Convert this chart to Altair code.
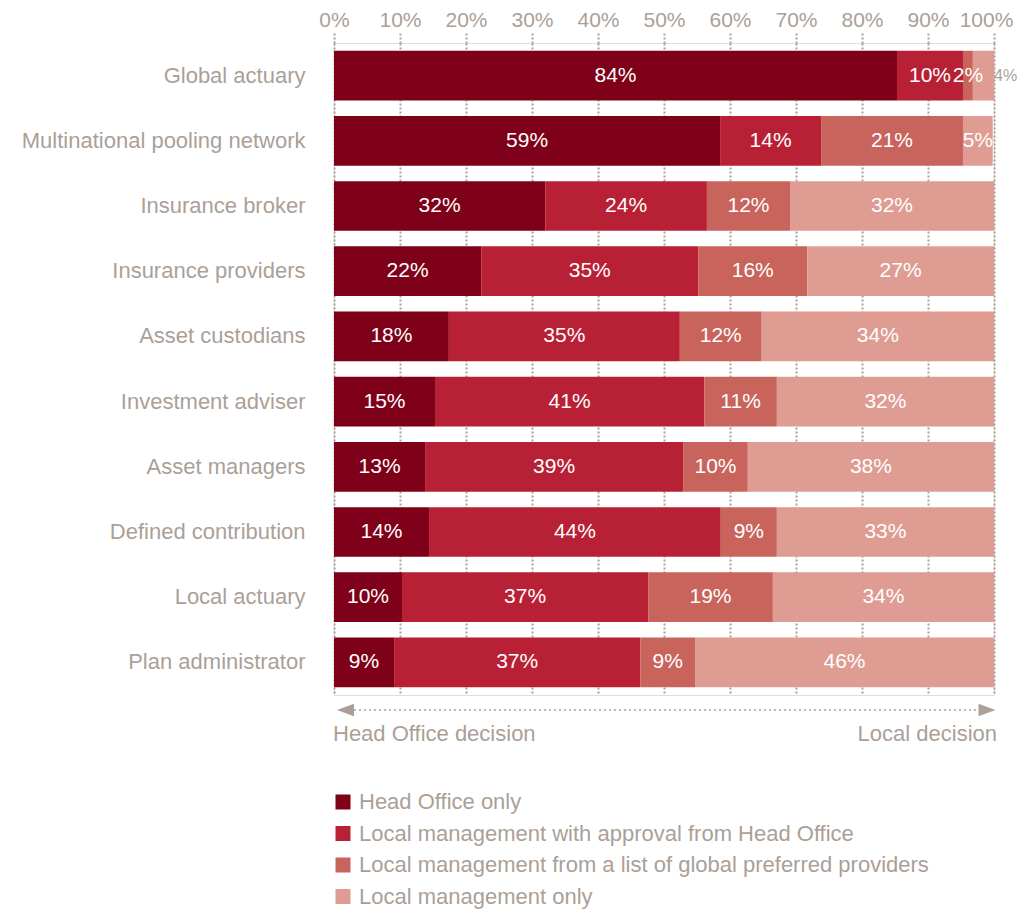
import altair as alt
import pandas as pd

categories = ["Global actuary", "Multinational pooling network", "Insurance broker",
              "Insurance providers", "Asset custodians", "Investment adviser",
              "Asset managers", "Defined contribution", "Local actuary", "Plan administrator"]
segments = ["Head Office only",
            "Local management with approval from Head Office",
            "Local management from a list of global preferred providers",
            "Local management only"]
colors = ["#7E0019", "#B82135", "#C8645C", "#DE9C93"]

# bar lengths (share of respondents, %)
head_office = [85.3, 58.5, 32.0, 22.3, 17.4, 15.3, 13.8, 14.4, 10.3, 9.1]
with_approval = [10.0, 15.3, 24.5, 32.9, 35.0, 40.8, 39.1, 44.2, 37.3, 37.3]
preferred_list = [1.5, 21.5, 12.6, 16.5, 12.4, 11.0, 9.8, 8.5, 18.9, 8.3]
local_only = [3.2, 4.5, 30.9, 28.3, 35.2, 32.9, 37.3, 32.9, 33.5, 45.3]

# printed labels
head_office_lbl = [84, 59, 32, 22, 18, 15, 13, 14, 10, 9]
with_approval_lbl = [10, 14, 24, 35, 35, 41, 39, 44, 37, 37]
preferred_list_lbl = [2, 21, 12, 16, 12, 11, 10, 9, 19, 9]
local_only_lbl = [4, 5, 32, 27, 34, 32, 38, 33, 34, 46]

tick_values = [0, 10, 20, 30, 40, 50, 60, 70, 80, 90, 100]

GRAY = "#AB9F97"
FONT = "Liberation Sans"

rows = []
series = [(head_office, head_office_lbl), (with_approval, with_approval_lbl),
          (preferred_list, preferred_list_lbl), (local_only, local_only_lbl)]
for si, (vals, lbls) in enumerate(series):
    for ci, cat in enumerate(categories):
        rows.append({"category": cat, "segment": segments[si], "order": si,
                     "share": vals[ci], "label": f"{lbls[ci]}%"})
df = pd.DataFrame(rows)

base = alt.Chart(df).transform_stack(
    stack="share", as_=["x0", "x1"], groupby=["category"],
    sort=[alt.SortField("order", order="ascending")]
).transform_calculate(mid="(datum.x0 + datum.x1) / 2")

y_enc = alt.Y("category:N", sort=categories,
              scale=alt.Scale(paddingInner=0.238, paddingOuter=0.119),
              axis=alt.Axis(title=None, ticks=False, domain=False, labelFontSize=22,
                            labelColor=GRAY, labelFont=FONT, labelPadding=29,
                            labelLimit=400, grid=False))

x_scale = alt.Scale(domain=[0, 100], nice=False, zero=True)

bars = base.mark_bar().encode(
    y=y_enc,
    x=alt.X("x0:Q", scale=x_scale,
            axis=alt.Axis(orient="top", values=tick_values, title=None,
                          labelExpr="datum.value + '%'", labelFontSize=21,
                          labelColor=GRAY, labelFont=FONT, labelPadding=1,
                          domain=False, ticks=True, tickSize=12, tickColor=GRAY,
                          tickDash=[2, 2], tickWidth=2, grid=True, gridColor=GRAY,
                          gridDash=[2, 2], gridWidth=2, labelFlush=False,
                          labelOverlap=False,
                          labelOffset={"condition": {"test": "datum.value === 100",
                                                     "value": -8}, "value": 0})),
    x2="x1:Q",
    color=alt.Color("segment:N", scale=alt.Scale(domain=segments, range=colors),
                    legend=alt.Legend(title=None, orient="none", legendX=-2, legendY=748,
                                      direction="vertical", symbolType="square",
                                      symbolSize=225, symbolStrokeWidth=0,
                                      labelFontSize=22, labelColor=GRAY, labelFont=FONT,
                                      rowPadding=9.5, labelOffset=5, labelLimit=800)),
)

text_in = base.transform_filter(
    "!(datum.x1 > 99.5 && datum.share < 4)"
).mark_text(color="white", fontSize=21, font=FONT, baseline="middle").encode(
    y=alt.Y("category:N", sort=categories),
    x=alt.X("mid:Q", scale=x_scale),
    text="label:N",
)

text_out = base.transform_filter(
    "datum.x1 > 99.5 && datum.share < 4"
).mark_text(color=GRAY, fontSize=16, font=FONT, align="left", dx=0,
            baseline="middle").encode(
    y=alt.Y("category:N", sort=categories),
    x=alt.X("x1:Q", scale=x_scale),
    text="label:N",
)

one = alt.Data(values=[{"a": 1}])
arrow_line = alt.Chart(one).mark_rule(color=GRAY, strokeDash=[2, 3], strokeWidth=1.5).encode(
    x=alt.value(20), x2=alt.value(644), y=alt.value(667))
arrow_left = alt.Chart(one).mark_point(shape="M 1 -0.74 L -1 0 L 1 0.74 Z", filled=True,
                                       color=GRAY, size=289, opacity=1).encode(
    x=alt.value(11.5), y=alt.value(667))
arrow_right = alt.Chart(one).mark_point(shape="M -1 -0.74 L 1 0 L -1 0.74 Z", filled=True,
                                        color=GRAY, size=289, opacity=1).encode(
    x=alt.value(653), y=alt.value(667))
txt_left = alt.Chart(one).mark_text(align="left", baseline="middle", fontSize=22,
                                    font=FONT, color=GRAY).encode(
    x=alt.value(-1), y=alt.value(691), text=alt.value("Head Office decision"))
txt_right = alt.Chart(one).mark_text(align="right", baseline="middle", fontSize=22,
                                     font=FONT, color=GRAY).encode(
    x=alt.value(663), y=alt.value(691), text=alt.value("Local decision"))

chart = alt.layer(bars, text_in, text_out, arrow_line, arrow_left, arrow_right,
                  txt_left, txt_right).properties(
    width=660, height=652,
    autosize=alt.AutoSizeParams(type="none"),
    padding={"left": 326, "top": 35, "right": 23, "bottom": 215},
).configure_view(stroke=None).configure(background="white")

chart.save("out.html", embed_options={"renderer": "svg", "actions": False})
